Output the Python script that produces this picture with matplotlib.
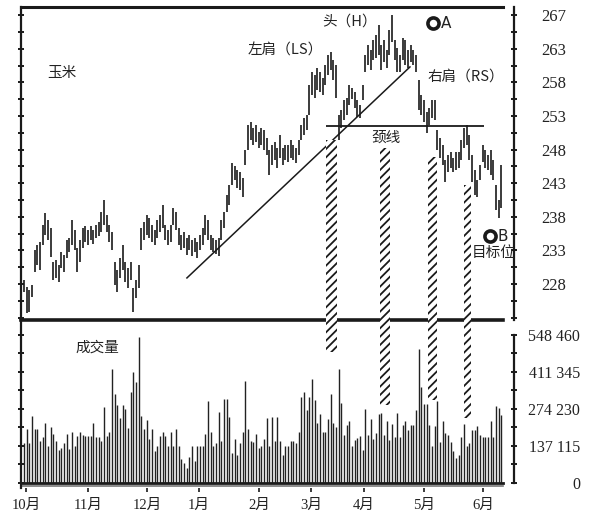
import matplotlib
matplotlib.use('Agg')
import matplotlib.pyplot as plt
from matplotlib.patches import Rectangle
import numpy as np

plt.rcParams['font.family'] = ['Liberation Serif', 'Noto Sans CJK SC', 'DejaVu Sans']
plt.rcParams['hatch.linewidth'] = 1.3

# ---- data (one bar per trading day) ----
months = ['10月', '11月', '12月', '1月', '2月', '3月', '4月', '5月', '6月']
month_pos = [0.8, 24, 46.1, 65.6, 88.1, 107.6, 127.5, 150, 172.1]

lows = [226.8, 223.7, 223.8, 226.1, 229.8, 230.8, 230.1, 233.8, 235.3, 234.5,
        232.0, 228.6, 228.9, 228.3, 230.4, 229.8, 231.9, 232.8, 233.8, 233.1,
        229.8, 231.3, 233.4, 234.3, 233.8, 234.5, 234.0, 234.8, 235.1, 235.7,
        236.8, 235.7, 234.3, 233.1, 227.9, 226.8, 228.9, 230.1, 228.3, 227.4,
        228.6, 223.8, 225.9, 227.4, 233.1, 234.5, 235.3, 234.8, 234.3, 233.8,
        234.8, 235.7, 236.3, 234.5, 233.8, 234.3, 236.8, 236.0, 233.8, 233.1,
        233.4, 232.3, 233.1, 232.2, 232.8, 231.9, 233.1, 233.8, 235.3, 234.5,
        233.1, 232.8, 232.5, 232.2, 234.5, 236.3, 238.7, 239.8, 242.7, 243.5,
        242.3, 242.0, 240.9, 245.7, 248.0, 249.4, 248.7, 249.1, 248.2, 248.7,
        248.0, 247.2, 244.2, 245.7, 246.5, 245.3, 246.8, 245.7, 246.5, 246.2,
        246.8, 246.5, 246.0, 247.2, 249.4, 250.2, 250.9, 253.1, 256.1, 255.7,
        256.9, 256.6, 256.1, 257.6, 259.1, 259.8, 258.4, 255.7, 249.4, 251.2,
        252.4, 253.1, 254.6, 255.6, 254.2, 252.9, 252.7, 255.4, 259.5, 260.6,
        259.8, 261.3, 261.6, 262.1, 259.8, 261.0, 260.1, 262.1, 264.0, 261.3,
        259.5, 259.5, 261.3, 260.6, 260.1, 261.0, 260.6, 259.5, 253.9, 253.1,
        252.1, 250.5, 251.7, 252.7, 252.4, 248.0, 246.8, 245.7, 243.2, 244.7,
        245.3, 244.7, 245.0, 245.3, 246.5, 248.2, 248.7, 246.5, 243.2, 241.2,
        240.9, 243.5, 246.2, 245.3, 245.0, 244.2, 243.5, 239.0, 237.8, 239.3]

highs = [228.6, 227.6, 227.1, 227.9, 233.1, 233.8, 234.2, 236.8, 238.6, 237.5,
         236.3, 231.3, 231.6, 230.8, 232.8, 232.3, 234.5, 234.8, 237.5, 236.0,
         233.4, 234.5, 236.3, 236.6, 236.0, 236.6, 236.0, 236.8, 237.2, 238.7,
         240.5, 238.3, 236.8, 235.7, 231.3, 230.1, 231.9, 233.8, 231.3, 230.4,
         231.3, 227.4, 228.6, 230.8, 236.3, 237.2, 238.3, 237.8, 236.8, 236.0,
         237.5, 238.3, 239.8, 236.8, 236.0, 236.8, 239.3, 238.7, 236.3, 235.3,
         235.7, 234.8, 235.3, 234.5, 234.8, 234.3, 235.3, 236.3, 238.3, 237.5,
         235.3, 234.8, 234.5, 234.8, 237.5, 238.7, 241.2, 242.7, 246.0, 245.5,
         245.0, 244.7, 243.8, 248.0, 251.7, 252.1, 251.2, 251.7, 250.6, 251.2,
         250.9, 249.7, 247.9, 248.7, 249.1, 248.2, 250.2, 248.2, 248.7, 248.7,
         249.4, 248.7, 248.2, 249.4, 251.7, 252.7, 253.1, 257.6, 259.5, 259.1,
         260.1, 259.5, 258.7, 260.6, 262.1, 262.5, 261.3, 260.6, 253.1, 253.9,
         255.4, 255.7, 257.6, 257.2, 256.6, 255.4, 254.6, 257.6, 262.1, 263.6,
         262.8, 264.3, 265.0, 266.5, 263.6, 264.3, 262.8, 265.8, 268.0, 264.3,
         263.1, 262.1, 264.6, 264.3, 262.8, 263.6, 262.8, 262.1, 258.4, 256.1,
         255.4, 253.6, 254.2, 255.4, 255.4, 250.9, 249.7, 248.7, 246.5, 247.2,
         247.6, 246.8, 247.6, 247.6, 249.4, 251.2, 251.7, 250.2, 247.2, 245.0,
         243.5, 245.7, 248.7, 248.0, 247.2, 248.0, 246.5, 242.7, 240.5, 245.7]

volume = [148, 200, 148, 248, 200, 200, 155, 170, 222, 137, 207, 181, 155, 122, 130,
          148, 181, 126, 189, 137, 174, 189, 178, 174, 174, 174, 222, 170, 170, 155,
          281, 174, 189, 422, 329, 287, 240, 287, 272, 203, 337, 411, 374, 540, 248,
          200, 233, 163, 200, 118, 137, 174, 189, 174, 137, 189, 137, 200, 137, 89,
          74, 55, 96, 137, 81, 137, 137, 137, 181, 303, 189, 137, 148, 263, 155,
          311, 311, 246, 111, 163, 104, 148, 189, 378, 200, 155, 150, 181, 130, 137,
          163, 240, 137, 246, 155, 246, 155, 104, 137, 137, 155, 155, 148, 189,
          319, 338, 270, 319, 386, 307, 222, 257, 188, 188, 238, 329, 222, 207, 422,
          297, 179, 213, 229, 137, 158, 168, 173, 121, 274, 179, 238, 164, 185, 254,
          260, 179, 228, 158, 220, 170, 260, 170, 213, 228, 195, 213, 213, 269, 496,
          355, 294, 294, 213, 137, 210, 304, 153, 228, 185, 179, 153, 118, 94, 103,
          170, 220, 137, 148, 197, 195, 210, 179, 170, 170, 170, 228, 170, 284, 279, 253]

price_ticks = [228, 233, 238, 243, 248, 253, 258, 263, 268]
price_labels = ['228', '233', '238', '243', '248', '253', '258', '263', '267']
vol_ticks = [0, 137, 274, 411, 548]
vol_labels = ['0', '137 115', '274 230', '411 345', '548 460']

neckline = 251.5
neck_from, neck_to = 113.2, 172.5
trend_x = [61.1, 144.7]
trend_y = [228.9, 260.3]
# hatched links: x from, x to, price at top, volume at bottom
links = [(113.2, 117.4, 249.4, 485), (133.5, 137.2, 248.2, 289),
         (151.5, 154.9, 246.9, 307), (165.0, 167.6, 242.7, 240)]

idx = np.arange(len(highs))
ink = '#1a1a1a'

W, H = 589, 526
fig = plt.figure(figsize=(W / 100, H / 100), dpi=100)


def box(l, t, r, b):
    return [l / W, 1 - b / H, (r - l) / W, (b - t) / H]


axp = fig.add_axes(box(21, 7, 514, 320))
axv = fig.add_axes(box(21, 320, 514, 488), sharex=axp)
axp.patch.set_alpha(0)
axv.patch.set_alpha(0)
axp.set_zorder(2)

axp.set_xlim(-1.1, 183.7)
axp.set_ylim(222.64, 269.22)
axv.set_ylim(-18.5, 603)

# price bars
axp.vlines(idx, lows, highs, colors=ink, lw=1.2)
axp.plot(trend_x, trend_y, color=ink, lw=1.1)
axp.hlines(neckline, neck_from, neck_to, color=ink, lw=1.3)

# volume bars
axv.vlines(idx, 0, volume, colors='#222222', lw=1.0)

# frame lines
xm = (503 - 21) / (514 - 21)
axp.axhline(269.22, xmax=xm, color=ink, lw=2.2, clip_on=False)
axp.axhline(222.64, xmax=xm, color=ink, lw=2.6, clip_on=False)
axv.axhline(0, xmax=xm, color=ink, lw=2.0)
axv.axhline(-11, xmax=xm, color='#777777', lw=1.2)

for a in (axp, axv):
    a.spines['top'].set_visible(False)
    a.spines['bottom'].set_visible(False)
    a.spines['left'].set_linewidth(1.6)
    a.spines['right'].set_linewidth(1.6)
    a.spines['left'].set_color(ink)
    a.spines['right'].set_color(ink)
axv.spines['right'].set_bounds(0, 548)

# price ticks
axp.set_yticks(price_ticks)
axp.set_yticklabels(price_labels)
axp.set_yticks(np.arange(223, 269, 2.5), minor=True)
axp.tick_params(axis='y', which='both', left=True, right=True, labelleft=False,
                labelright=True, direction='inout', length=5, width=1.4, color=ink)
axp.tick_params(axis='y', which='major', pad=17, labelsize=12, labelcolor='#222222')
axp.tick_params(axis='x', which='both', bottom=False, labelbottom=False)

# volume ticks
axv.set_yticks(vol_ticks)
axv.set_yticklabels(vol_labels)
axv.set_yticks(np.arange(0, 549, 68.5), minor=True)
axv.tick_params(axis='y', which='both', left=True, right=True, labelleft=False,
                labelright=True, direction='inout', length=5, width=1.4, color=ink)
axv.tick_params(axis='y', which='major', pad=45, labelsize=11.5, labelcolor='#222222')
for lbl in axv.get_yticklabels():
    lbl.set_horizontalalignment('right')

axv.set_xticks(month_pos)
axv.set_xticklabels(months)
axv.tick_params(axis='x', length=3, width=1.2, color=ink, pad=5, labelsize=10.5,
                labelcolor='#222222')

# annotations
cjk = ['Noto Sans CJK SC', 'DejaVu Sans']
tc = '#222222'
axp.text(14.2, 259.4, '玉米', family=cjk, fontsize=10.5, color=tc, ha='center', va='center')
axp.text(84, 262.8, '左肩（LS）', family=cjk, fontsize=10.5, color=tc, va='center')
axp.text(111.7, 267.0, '头（H）', family=cjk, fontsize=10.5, color=tc, va='center')
axp.text(151.1, 258.8, '右肩（RS）', family=cjk, fontsize=10.5, color=tc, va='center')
axp.text(135.7, 249.7, '颈线', family=cjk, fontsize=10.5, color=tc, ha='center', va='center')
axp.text(168, 232.6, '目标位', family=cjk, fontsize=10.5, color=tc, va='center')
axv.text(19.5, 500, '成交量', family=cjk, fontsize=10.5, color=tc, va='center')

axp.plot(153.4, 266.8, 'o', ms=8, mfc='white', mec=ink, mew=2.6, clip_on=False)
axp.text(156.2, 266.8, 'A', family='DejaVu Sans', fontsize=11, color=tc, va='center')
axp.plot(174.7, 235.1, 'o', ms=8, mfc='white', mec=ink, mew=2.6, clip_on=False)
axp.text(177.4, 235.1, 'B', family='DejaVu Sans', fontsize=11, color=tc, va='center')

# hatched links between price and volume
inv = fig.transFigure.inverted()
for x0, x1, ptop, vbot in links:
    fx0, fy_top = inv.transform(axp.transData.transform((x0, ptop)))
    fx1, fy_bot = inv.transform(axv.transData.transform((x1, vbot)))
    rect = Rectangle((fx0, fy_bot), fx1 - fx0, fy_top - fy_bot, transform=fig.transFigure,
                     facecolor='white', edgecolor=ink, hatch='////', lw=0, zorder=5)
    fig.add_artist(rect)

fig.savefig('out.png', dpi=100, facecolor='white')
